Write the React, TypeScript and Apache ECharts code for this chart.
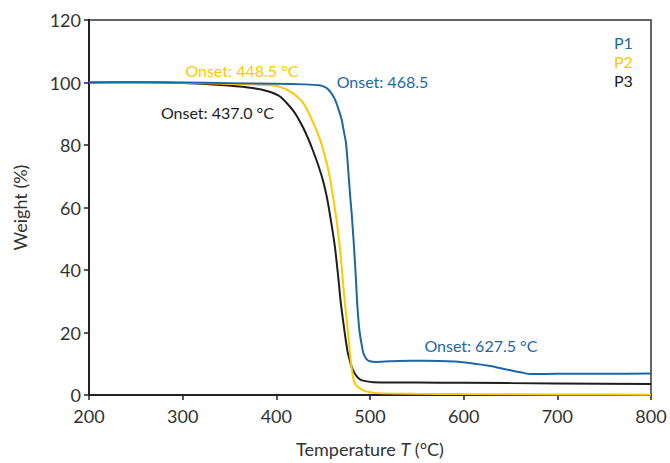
import React, { useEffect, useRef } from "react";
import * as echarts from "echarts";

const xTicks = [200, 300, 400, 500, 600, 700, 800];
const seriesNames = ["P1", "P2", "P3"];
const seriesColors = ["#1c67a6", "#ffc800", "#1e1e1e"];

const p1: [number, number][] = [
  [200, 100], [250, 100.1], [300, 100], [350, 99.8], [400, 99.6], [430, 99.4], [446, 99.1],
  [452, 98.5], [456, 97.6], [460, 96], [463, 94.3], [466, 91.8], [469.6, 88.3], [472, 84.5],
  [474.3, 80.8], [476, 75], [477.5, 69], [479, 63], [480.3, 58.6], [482.8, 48], [484.9, 37.5],
  [486.2, 30], [487.4, 24.8], [489, 20], [491, 16.3], [493, 13.3], [496.3, 11.5], [500, 10.8],
  [507, 10.6], [530, 10.9], [560, 11.0], [590, 10.7], [610, 10.1], [630, 9.2], [650, 7.9],
  [665, 7.0], [672, 6.7], [700, 6.8], [750, 6.8], [800, 6.9],
];

const p2: [number, number][] = [
  [200, 100], [250, 100], [300, 99.9], [350, 99.6], [390, 99.2], [404, 98.6], [418, 96.5],
  [428.7, 93.5], [437.6, 88.3], [446.5, 81.9], [453.6, 74.5], [457.8, 68.5], [461, 62.5],
  [464.3, 56], [467.9, 47], [470.6, 38], [473, 30], [476.7, 19.5], [478.5, 13.5], [480.3, 8.9],
  [482, 5.5], [484, 3.6], [488, 2.3], [492.7, 1.5], [500, 0.9], [507, 0.6], [550, 0.4],
  [600, 0.3], [700, 0.2], [800, 0.1],
];

const p3: [number, number][] = [
  [200, 100], [250, 100.1], [300, 99.8], [340, 99.2], [370, 98.4], [390, 97.3], [404, 95.5],
  [418, 91], [428.7, 85.5], [439.4, 78], [448.2, 70.3], [453.6, 63.8], [457.2, 57.8], [462.5, 47.5],
  [466, 38], [469, 29], [473.2, 19.5], [476, 14], [478.5, 11], [481, 8.5], [483.9, 6.8],
  [488, 5.3], [492.7, 4.6], [503.4, 4.1], [550, 4.0], [600, 3.9], [700, 3.7], [800, 3.5],
];

const onsetLabels = [
  { series: 1, text: "Onset: 448.5 °C", coord: [363.3, 103.8] },
  { series: 2, text: "Onset: 437.0 °C", coord: [337.1, 90.5] },
  { series: 0, text: "Onset: 468.5", coord: [513.3, 100.3] },
  { series: 0, text: "Onset: 627.5 °C", coord: [618.4, 15.7] },
];

const FONT = "Lato, 'DejaVu Sans', sans-serif";

export default function App() {
  const ref = useRef<HTMLDivElement>(null);
  useEffect(() => {
    if (!ref.current) return;
    const chart = echarts.init(ref.current, null, { renderer: "svg" });
    const data = [p1, p2, p3];
    chart.setOption({
      animation: false,
      textStyle: { fontFamily: FONT },
      grid: {
        left: 89, right: 19, top: 20, bottom: 65,
        show: true, borderColor: "#333", borderWidth: 1.5,
      },
      xAxis: {
        type: "value", min: 200, max: 800, interval: 100,
        name: "{a|Temperature }{i|T}{a| (°C)}",
        nameLocation: "middle", nameGap: 45,
        nameTextStyle: {
          rich: {
            a: { fontSize: 18, color: "#333", fontFamily: FONT },
            i: { fontSize: 18, color: "#333", fontStyle: "italic", fontFamily: FONT },
          },
        },
        axisLine: { show: true, lineStyle: { color: "#222", width: 2 } },
        axisTick: { show: true, length: 5, lineStyle: { color: "#222", width: 1.5 },
          customValues: xTicks },
        axisLabel: { fontSize: 18, color: "#333", margin: 12, customValues: xTicks },
        splitLine: { show: false },
      },
      yAxis: {
        type: "value", min: 0, max: 120, interval: 20,
        name: "Weight (%)", nameLocation: "middle", nameGap: 60,
        nameTextStyle: { fontSize: 18, color: "#333" },
        axisLine: { show: true, lineStyle: { color: "#222", width: 2 } },
        axisTick: { show: true, length: 5, lineStyle: { color: "#222", width: 1.5 } },
        axisLabel: { fontSize: 18, color: "#333", margin: 8 },
        splitLine: { show: false },
      },
      series: data.map((d, i) => ({
        name: seriesNames[i],
        type: "line",
        data: d,
        showSymbol: false,
        smooth: 0.2,
        lineStyle: { color: seriesColors[i], width: 2 },
        itemStyle: { color: seriesColors[i] },
        z: 3 - i,
        markPoint: {
          symbol: "circle",
          symbolSize: 0,
          silent: true,
          data: onsetLabels.filter((l) => l.series === i).map((l) => ({
            coord: l.coord,
            label: {
              show: true, position: "inside", formatter: l.text,
              color: seriesColors[i], fontSize: 16, fontFamily: FONT,
            },
          })),
        },
      })),
      graphic: seriesNames.map((n, i) => ({
        type: "text",
        left: 614,
        top: 34 + i * 19,
        style: { text: n, fill: seriesColors[i], fontSize: 16, fontFamily: FONT },
      })),
    });
    return () => chart.dispose();
  }, []);
  return <div ref={ref} style={{ width: 670, height: 463, position: "absolute", left: 0, top: 0 }} />;
}
